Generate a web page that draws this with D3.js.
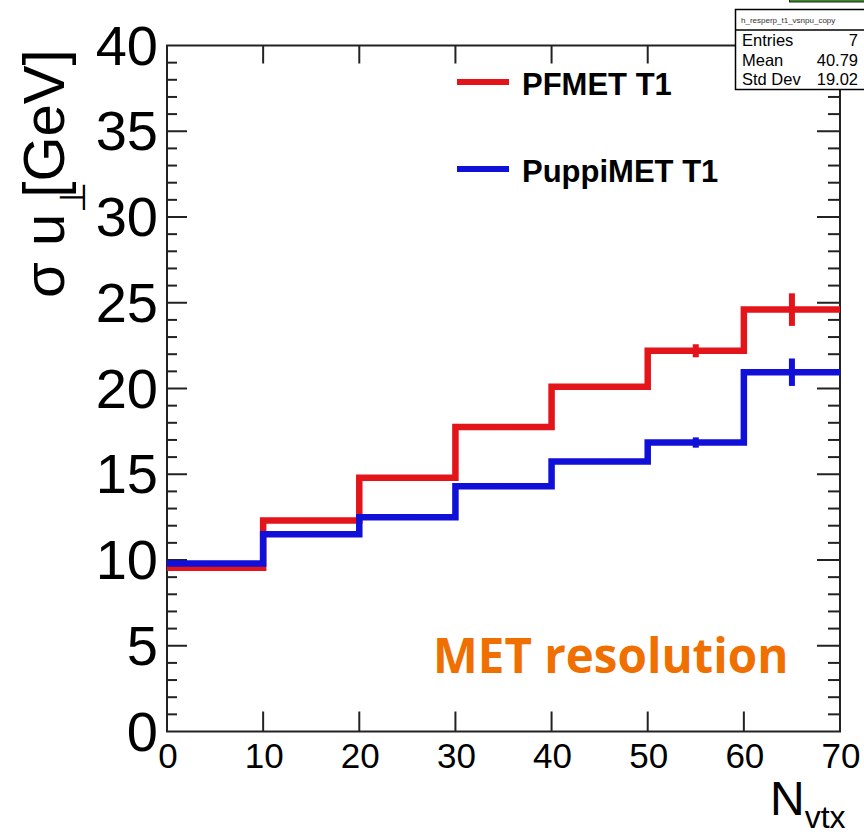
<!DOCTYPE html>
<html>
<head>
<meta charset="utf-8">
<script src="https://cdn.jsdelivr.net/npm/d3@7"></script>
<style>
  html, body { margin: 0; padding: 0; background: #fff; }
  svg { display: block; }
</style>
</head>
<body>
<svg id="chart" width="864" height="834"></svg>
<script>
// ---------------- data ----------------
const binEdges = [0, 10, 20, 30, 40, 50, 60, 70];
const pfmetValues   = [9.55, 12.3, 14.8, 17.75, 20.1, 22.2, 24.6];
const pfmetErrors   = [0.05, 0.05, 0.05, 0.05, 0.15, 0.38, 0.95];
const puppiValues   = [9.8, 11.5, 12.5, 14.3, 15.75, 16.85, 20.95];
const puppiErrors   = [0.05, 0.05, 0.05, 0.05, 0.1, 0.3, 0.8];
const xTickValues = [0, 10, 20, 30, 40, 50, 60, 70];
const yTickValues = [0, 5, 10, 15, 20, 25, 30, 35, 40];
const seriesNames = ["PFMET T1", "PuppiMET T1"];
const statsTitle = "h_resperp_t1_vsnpu_copy";
const statsLabels = ["Entries", "Mean", "Std Dev"];
const statsValues = ["7", "40.79", "19.02"];

// ---------------- layout ----------------
const svg = d3.select("#chart");
const L = 167, R = 840, T = 45.5, B = 731.5;
const x = d3.scaleLinear().domain([0, 70]).range([L, R]);
const y = d3.scaleLinear().domain([0, 40]).range([B, T]);
const frameColor = "#222";
const red = "#e3151a", blue = "#1010d8";
const font = "Liberation Sans, Arial, sans-serif";

// frame
svg.append("rect").attr("x", L).attr("y", T).attr("width", R - L).attr("height", B - T)
  .attr("fill", "none").attr("stroke", frameColor).attr("stroke-width", 2);

// y ticks (left and right)
const yMinor = d3.range(0, 41, 1);
const gT = svg.append("g").attr("stroke", frameColor).attr("stroke-width", 2);
yMinor.forEach(v => {
  const major = v % 5 === 0;
  if (v === 0 || v === 40) return;
  gT.append("line").attr("x1", L).attr("x2", L + (major ? 20 : 10)).attr("y1", y(v)).attr("y2", y(v));
  gT.append("line").attr("x1", R).attr("x2", R - (major ? 23 : 12)).attr("y1", y(v)).attr("y2", y(v));
});
// x ticks (bottom and top)
xTickValues.forEach(v => {
  if (v === 0 || v === 70) return;
  gT.append("line").attr("x1", x(v)).attr("x2", x(v)).attr("y1", B).attr("y2", B - 20);
  gT.append("line").attr("x1", x(v)).attr("x2", x(v)).attr("y1", T).attr("y2", T + 18);
});

// tick labels
svg.append("g").selectAll("text").data(yTickValues).join("text")
  .attr("x", 158).attr("y", d => y(d) + 19)
  .attr("text-anchor", "end")
  .attr("font-family", font)
  .attr("font-size", 56).attr("fill", "#000")
  .text(d => d);
svg.append("g").selectAll("text").data(xTickValues).join("text")
  .attr("x", d => x(d) + 1).attr("y", 768)
  .attr("text-anchor", "middle")
  .attr("font-family", font)
  .attr("font-size", 35).attr("fill", "#000")
  .text(d => d);

// axis titles
const xt = svg.append("text").attr("x", 770).attr("y", 815)
  .attr("font-family", font).attr("font-size", 48);
xt.append("tspan").text("N");
xt.append("tspan").attr("font-size", 32).attr("dy", 13).text("vtx");

const yt = svg.append("text").attr("transform", "translate(64,298) rotate(-90)")
  .attr("font-family", font).attr("font-size", 58);
yt.text("σ u [GeV]");
svg.append("text").attr("transform", "translate(85,213) rotate(-90)")
  .attr("font-family", "DejaVu Sans, sans-serif").attr("font-size", 36).text("⊥");

// histograms
function stepPoints(vals) {
  const pts = [];
  vals.forEach((v, i) => { pts.push([binEdges[i], v]); pts.push([binEdges[i + 1], v]); });
  return pts;
}
const line = d3.line().x(d => x(d[0])).y(d => y(d[1]));
function drawHist(vals, errs, color) {
  const g = svg.append("g");
  g.append("path").attr("d", line(stepPoints(vals))).attr("fill", "none")
    .attr("stroke", color).attr("stroke-width", 6.5).attr("stroke-linejoin", "miter");
  g.selectAll("line.err").data(vals).join("line").attr("class", "err")
    .attr("x1", (d, i) => x((binEdges[i] + binEdges[i + 1]) / 2))
    .attr("x2", (d, i) => x((binEdges[i] + binEdges[i + 1]) / 2))
    .attr("y1", (d, i) => y(d - errs[i])).attr("y2", (d, i) => y(d + errs[i]))
    .attr("stroke", color).attr("stroke-width", 6);
}
drawHist(pfmetValues, pfmetErrors, red);
drawHist(puppiValues, puppiErrors, blue);

// legend
const legend = svg.append("g");
[[red, 82, seriesNames[0]], [blue, 169, seriesNames[1]]].forEach(([c, ly, name]) => {
  legend.append("line").attr("x1", 457).attr("x2", 509).attr("y1", ly).attr("y2", ly)
    .attr("stroke", c).attr("stroke-width", 6);
  legend.append("text").attr("x", 522).attr("y", ly + 13)
    .attr("font-family", font).attr("font-weight", "bold")
    .attr("font-size", 31).text(name);
});

// MET resolution label
svg.append("text").attr("x", 433).attr("y", 673)
  .attr("font-family", "Open Sans, sans-serif").attr("font-weight", 700)
  .attr("font-size", 47.5).attr("fill", "#ef7000").text("MET resolution");

// stats box
const sb = svg.append("g");
sb.append("rect").attr("x", 789.5).attr("y", -3).attr("width", 80).attr("height", 5)
  .attr("fill", "#3a8a2a").attr("stroke", "#222").attr("stroke-width", 1);
sb.append("rect").attr("x", 735.5).attr("y", 9.5).attr("width", 140).attr("height", 80)
  .attr("fill", "#fff").attr("stroke", "#000").attr("stroke-width", 1.5);
sb.append("line").attr("x1", 735.5).attr("x2", 864).attr("y1", 30).attr("y2", 30)
  .attr("stroke", "#000").attr("stroke-width", 1.5);
sb.append("text").attr("x", 741).attr("y", 23).attr("font-family", font)
  .attr("font-size", 8).attr("fill", "#333").text(statsTitle);
statsLabels.forEach((s, i) => {
  sb.append("text").attr("x", 742).attr("y", 46 + i * 19.5).attr("font-family", font)
    .attr("font-size", 16.5).text(s);
  sb.append("text").attr("x", 858).attr("y", 46 + i * 19.5).attr("text-anchor", "end")
    .attr("font-family", font).attr("font-size", 16.5).text(statsValues[i]);
});
</script>
</body>
</html>
